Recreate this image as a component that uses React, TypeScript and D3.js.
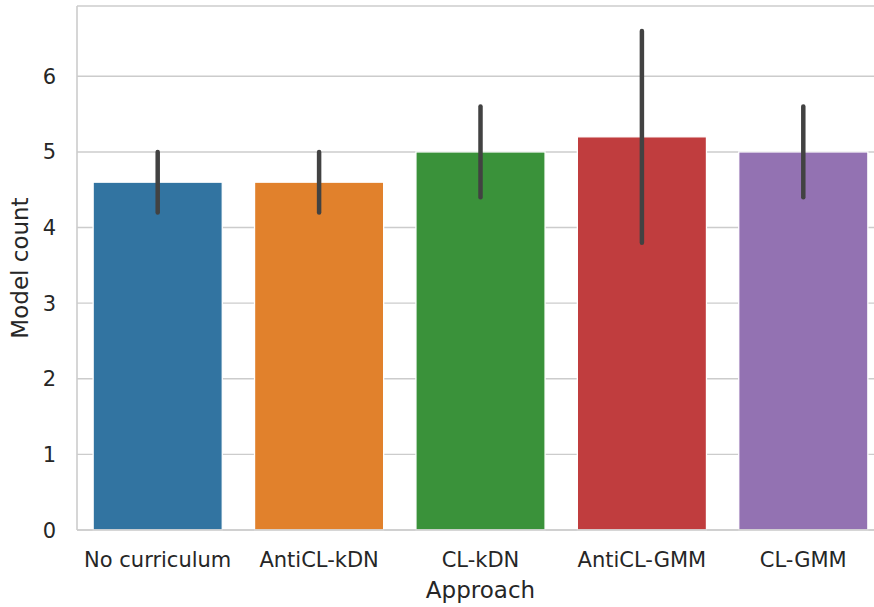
import * as d3 from "d3";
import React from "react";

// bar heights (means) and confidence intervals
const approaches = ["No curriculum", "AntiCL-kDN", "CL-kDN", "AntiCL-GMM", "CL-GMM"];
const means = [4.6, 4.6, 5.0, 5.2, 5.0];
const ciLow = [4.2, 4.2, 4.4, 3.8, 4.4];
const ciHigh = [5.0, 5.0, 5.6, 6.6, 5.6];
const colors = ["#3274a1", "#e1812c", "#3a923a", "#c03d3e", "#9372b2"];
const yTicks = [0, 1, 2, 3, 4, 5, 6];

const W = 874;
const H = 607;
const left = 77;
const right = 884; // axes run past the picture edge, as in the reference
const top = 6;
const bottom = 530;
const font = "'DejaVu Sans', sans-serif";

const App = () => {
  const x = d3.scaleBand<string>().domain(approaches).range([left, right]).paddingInner(0).paddingOuter(0);
  const yMax = d3.max(ciHigh)! * 1.05;
  const y = d3.scaleLinear().domain([0, yMax]).range([bottom, top]);
  const bw = x.bandwidth() * 0.8;

  return (
    <svg width={W} height={H} style={{ display: "block", position: "absolute", left: 0, top: 0, overflow: "hidden" }}>
      <rect width={W} height={H} fill="#ffffff" />
      {/* grid */}
      {yTicks.map(t => (
        <line key={t} x1={left} x2={right} y1={y(t)} y2={y(t)} stroke="#cccccc" strokeWidth={1.4} />
      ))}
      {/* bars */}
      {approaches.map((a, i) => (
        <rect
          key={a}
          x={x(a)! + (x.bandwidth() - bw) / 2}
          y={y(means[i])}
          width={bw}
          height={y(0) - y(means[i])}
          fill={colors[i]}
          stroke="#ffffff"
          strokeWidth={1.3}
        />
      ))}
      {/* spines */}
      <line x1={left} x2={left} y1={top} y2={bottom} stroke="#cccccc" strokeWidth={1.6} />
      <line x1={left} x2={right} y1={top} y2={top} stroke="#cccccc" strokeWidth={1.6} />
      <line x1={left} x2={right} y1={bottom} y2={bottom} stroke="#cccccc" strokeWidth={1.6} />
      {/* error bars */}
      {approaches.map((a, i) => (
        <line
          key={a}
          x1={x(a)! + x.bandwidth() / 2}
          x2={x(a)! + x.bandwidth() / 2}
          y1={y(ciLow[i])}
          y2={y(ciHigh[i])}
          stroke="#424242"
          strokeWidth={4.5}
          strokeLinecap="round"
        />
      ))}
      {/* y tick labels */}
      {yTicks.map(t => (
        <text key={t} x={56} y={y(t)} dy="0.36em" textAnchor="end" fontFamily={font} fontSize={21} fill="#262626">
          {t}
        </text>
      ))}
      {/* x tick labels */}
      {approaches.map(a => (
        <text key={a} x={x(a)! + x.bandwidth() / 2} y={567} textAnchor="middle" fontFamily={font} fontSize={21} fill="#262626">
          {a}
        </text>
      ))}
      <text x={(left + right) / 2} y={598} textAnchor="middle" fontFamily={font} fontSize={23} fill="#262626">
        Approach
      </text>
      <text
        transform={`translate(28,${(top + bottom) / 2}) rotate(-90)`}
        textAnchor="middle"
        fontFamily={font}
        fontSize={23}
        fill="#262626"
      >
        Model count
      </text>
    </svg>
  );
};

export default App;
